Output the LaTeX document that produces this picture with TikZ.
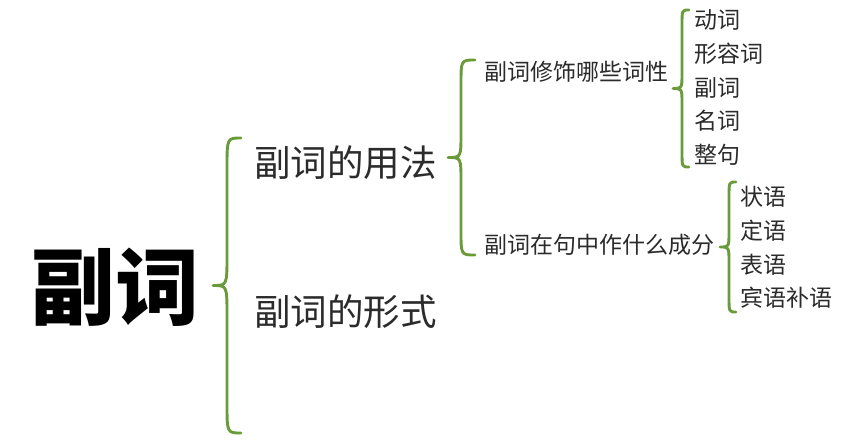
\documentclass[tikz,border=0pt]{standalone}
\usepackage{fontspec}
\newfontfamily\cjk{Noto Sans CJK SC}
\definecolor{bracegreen}{HTML}{6A9B3A}
\definecolor{txt}{HTML}{2B2B2B}
\newcommand{\mybrace}[5]{%
 \draw[bracestyle] (#3,#4) .. controls (#2,#4) .. (#2,{#4+\bc}) -- (#2,{(#4+#5)/2-\bc}) .. controls (#2,{(#4+#5)/2}) .. (#1,{(#4+#5)/2}) .. controls (#2,{(#4+#5)/2}) .. (#2,{(#4+#5)/2+\bc}) -- (#2,{#5-\bc}) .. controls (#2,#5) .. (#3,#5);}
\tikzset{
 bracestyle/.style={draw=bracegreen, line width=2.9pt, line cap=round, line join=round},
 lvl1/.style={anchor=west, inner sep=0pt, text=txt, font=\cjk\fontsize{36.5}{36.5}\selectfont},
 lvl2/.style={anchor=west, inner sep=0pt, text=txt, font=\cjk\fontsize{23}{23}\selectfont},
}
\begin{document}
\begin{tikzpicture}[x=1pt,y=-1pt]
\useasboundingbox (0,0) rectangle (863,442);
\node[inner sep=0pt, text=black, font=\cjk\bfseries\fontsize{84}{84}\selectfont] (root) at (115,287) {副词};
\def\bc{30}
\mybrace{213}{227}{241}{138}{433}
\node[lvl1] (usage) at (254,163) {副词的用法};
\node[lvl1] (form) at (254,312) {副词的形式};
\def\bc{24}
\mybrace{448}{461}{475}{60}{255}
\node[lvl2] (mod) at (484,72) {副词修饰哪些词性};
\node[lvl2] (role) at (484,245) {副词在句中作什么成分};
\def\bc{15}
\mybrace{673}{682}{689}{10}{167}
\node[lvl2] (a1) at (694,20) {动词};
\node[lvl2] (a2) at (694,54) {形容词};
\node[lvl2] (a3) at (694,88) {副词};
\node[lvl2] (a4) at (694,121) {名词};
\node[lvl2] (a5) at (694,155) {整句};
\def\bc{15}
\mybrace{720}{729}{736}{182}{312}
\node[lvl2] (b1) at (740,197) {状语};
\node[lvl2] (b2) at (740,231) {定语};
\node[lvl2] (b3) at (740,265) {表语};
\node[lvl2] (b4) at (740,298) {宾语补语};
\end{tikzpicture}
\end{document}
